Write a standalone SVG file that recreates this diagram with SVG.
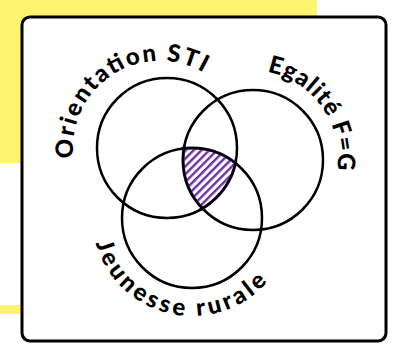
<svg xmlns="http://www.w3.org/2000/svg" width="398" height="344" viewBox="0 0 398 344">
<style>
.c{fill:none;stroke:#000;stroke-width:2.5}
.p{fill:none;stroke:#7030a0;stroke-width:3}
.t{font-family:Lato,"Noto Sans",sans-serif;font-weight:900;font-size:24px;fill:#000}
</style>
<defs>
<pattern id="h" patternUnits="userSpaceOnUse" width="5.5" height="5.5" patternTransform="rotate(45)">
<rect x="0" y="0" width="2.4" height="5.5" fill="#7030a0"/>
</pattern>
<clipPath id="k1"><circle cx="167" cy="148" r="70"/></clipPath>
<clipPath id="k2"><circle cx="253" cy="160" r="70"/></clipPath>
<clipPath id="k3"><circle cx="192" cy="218" r="70"/></clipPath>
<clipPath id="e1"><circle cx="167" cy="148" r="73"/></clipPath>
<clipPath id="e2"><circle cx="253" cy="160" r="73"/></clipPath>
<clipPath id="e3"><circle cx="192" cy="218" r="73"/></clipPath>
<path id="a1" d="M 73.6 158 A 87 87 0 1 1 247 148"/>
<path id="a2" d="M 267.2 71.7 A 88 88 0 0 1 317.4 214.6"/>
<path id="a3" d="M 95.7 243.1 A 100 100 0 0 0 286 250.2"/>
</defs>
<rect width="398" height="344" fill="#fff"/>
<g id="background">
<rect x="0" y="0" width="317" height="163" fill="#fff36d"/>
<rect x="0" y="305" width="24" height="9" fill="#fff36d"/>
</g>
<rect id="frame" x="22" y="17" width="364" height="324" rx="8" fill="#fff" stroke="#000" stroke-width="3"/>
<g id="intersection">
<g clip-path="url(#k1)"><g clip-path="url(#k2)"><rect x="170" y="140" width="80" height="80" fill="url(#h)" clip-path="url(#k3)"/></g></g>
<g clip-path="url(#e2)"><g clip-path="url(#e3)"><circle class="p" cx="167" cy="148" r="70"/></g></g>
<g clip-path="url(#e1)"><g clip-path="url(#e3)"><circle class="p" cx="253" cy="160" r="70"/></g></g>
<g clip-path="url(#e1)"><g clip-path="url(#e2)"><circle class="p" cx="192" cy="218" r="70"/></g></g>
</g>
<g id="sti">
<circle class="c" cx="167" cy="148" r="70"/>
<text class="t"><textPath href="#a1" textLength="192" lengthAdjust="spacing">Orientation STI</textPath></text>
</g>
<g id="egalite">
<circle class="c" cx="253" cy="160" r="70"/>
<text class="t"><textPath href="#a2" textLength="133" lengthAdjust="spacing">Egalité F=G</textPath></text>
</g>
<g id="jeunesse">
<circle class="c" cx="192" cy="218" r="70"/>
<text class="t"><textPath href="#a3" textLength="215" lengthAdjust="spacing">Jeunesse rurale</textPath></text>
</g>
<g id="connectors"/>
</svg>
